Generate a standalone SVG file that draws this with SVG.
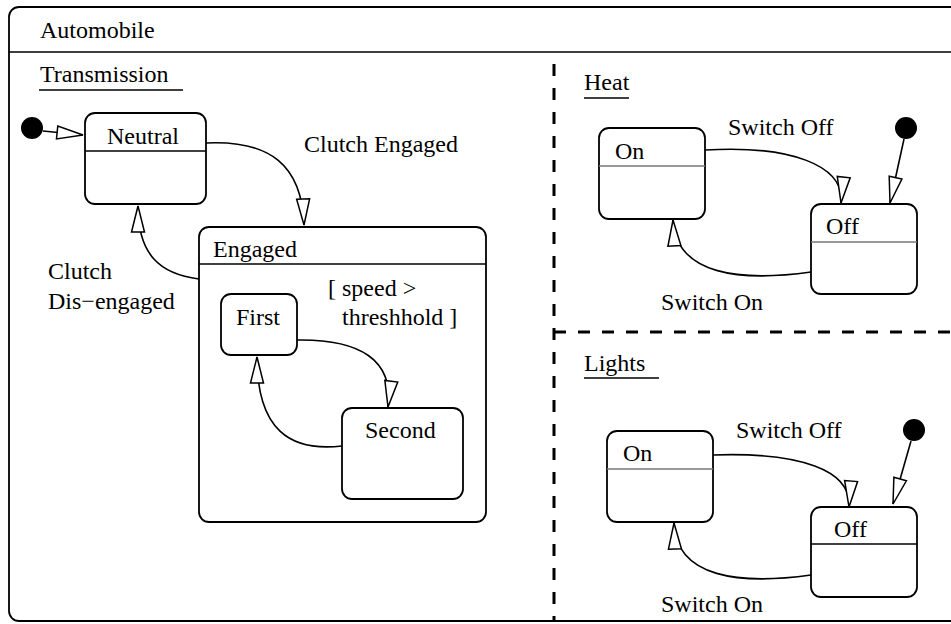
<svg xmlns="http://www.w3.org/2000/svg" width="951" height="624" viewBox="0 0 951 624">
<defs>
<marker id="tri" markerUnits="userSpaceOnUse" markerWidth="30" markerHeight="16" viewBox="-28 -8 30 16" refX="0" refY="0" orient="auto">
<path d="M0,0 L-26,-6.5 L-26,6.5 Z" fill="#fff" stroke="#000" stroke-width="1.5"/>
</marker>
</defs>
<style>
text{font-family:"Liberation Serif","Times New Roman",serif;font-size:24px;fill:#000}
.box{fill:#fff;stroke:#000;stroke-width:1.8}
.div{stroke:#000;stroke-width:1.5}
.gdiv{stroke:#777;stroke-width:1.3}
.dash{stroke:#000;stroke-width:3;stroke-dasharray:12 12;fill:none}
.conn path{fill:none;stroke:#000;stroke-width:1.6;marker-end:url(#tri)}
.dot{fill:#000}
.ul{stroke:#000;stroke-width:1.5}
</style>
<rect width="951" height="624" fill="#fff"/>
<g id="automobile">
<rect class="box" x="9" y="7" width="960" height="614" rx="10"/>
<line class="div" x1="9" y1="52" x2="951" y2="52" stroke-width="2"/>
<text x="40" y="38">Automobile</text>
</g>
<g id="regions">
<path class="dash" d="M554,64 L554,621"/>
<path class="dash" d="M554,332 L951,332"/>
</g>
<g id="transmission">
<text x="40" y="82">Transmission</text>
<line class="ul" x1="39" y1="90" x2="183" y2="90"/>
</g>
<g id="trans-init"><circle class="dot" cx="32" cy="128" r="11"/></g>
<g id="neutral">
<rect class="box" x="85" y="113" width="121" height="91" rx="10"/>
<line class="div" x1="85" y1="151" x2="206" y2="151"/>
<text x="107" y="144">Neutral</text>
</g>
<g id="engaged">
<rect class="box" x="199" y="227" width="287" height="295" rx="10"/>
<line class="div" x1="199" y1="264" x2="486" y2="264"/>
<text x="213" y="257">Engaged</text>
</g>
<g id="first">
<rect class="box" x="221" y="294" width="76" height="61" rx="10"/>
<text x="236" y="325">First</text>
</g>
<g id="second">
<rect class="box" x="342" y="408" width="121" height="91" rx="10"/>
<text x="365" y="438">Second</text>
</g>
<g id="heat">
<text x="584" y="90">Heat</text>
<line class="ul" x1="584" y1="98" x2="629" y2="98"/>
</g>
<g id="heat-init"><circle class="dot" cx="906" cy="128" r="11"/></g>
<g id="heat-on">
<rect class="box" x="599" y="128" width="106" height="91" rx="10"/>
<line class="gdiv" x1="599" y1="166" x2="705" y2="166"/>
<text x="615" y="159">On</text>
</g>
<g id="heat-off">
<rect class="box" x="811" y="204" width="106" height="90" rx="10"/>
<line class="gdiv" x1="811" y1="242" x2="917" y2="242"/>
<text x="826" y="234">Off</text>
</g>
<g id="lights">
<text x="584" y="371">Lights</text>
<line class="ul" x1="584" y1="378" x2="659" y2="378"/>
</g>
<g id="lights-init"><circle class="dot" cx="914" cy="430" r="11"/></g>
<g id="lights-on">
<rect class="box" x="607" y="431" width="106" height="91" rx="10"/>
<line class="gdiv" x1="607" y1="469" x2="713" y2="469"/>
<text x="623" y="461">On</text>
</g>
<g id="lights-off">
<rect class="box" x="811" y="507" width="106" height="90" rx="10"/>
<line class="div" x1="811" y1="544" x2="917" y2="544"/>
<text x="834" y="537">Off</text>
</g>
<g id="connectors" class="conn">
<path d="M43,131 L83,135"/>
<path d="M206,143 C270,140 302,165 304,225"/>
<path d="M199,279 C160,274 138,255 138,206"/>
<path d="M297,340 C360,339 394,360 388,407"/>
<path d="M342,446 C290,452 257,430 257,357"/>
<path d="M904,139 L890,203"/>
<path d="M705,150 C790,145 845,165 841,203"/>
<path d="M811,272 C740,282 676,275 673,220"/>
<path d="M911,441 L893,504"/>
<path d="M713,455 C800,452 852,470 849,507"/>
<path d="M811,575 C740,585 676,578 674,523"/>
</g>
<g id="labels">
<text x="304" y="152">Clutch Engaged</text>
<text x="48" y="279">Clutch</text>
<text x="48" y="309">Dis−engaged</text>
<text x="328" y="296">[ speed &gt;</text>
<text x="342" y="325">threshhold ]</text>
<text x="728" y="135">Switch Off</text>
<text x="661" y="310">Switch On</text>
<text x="736" y="438">Switch Off</text>
<text x="661" y="612">Switch On</text>
</g>
</svg>
